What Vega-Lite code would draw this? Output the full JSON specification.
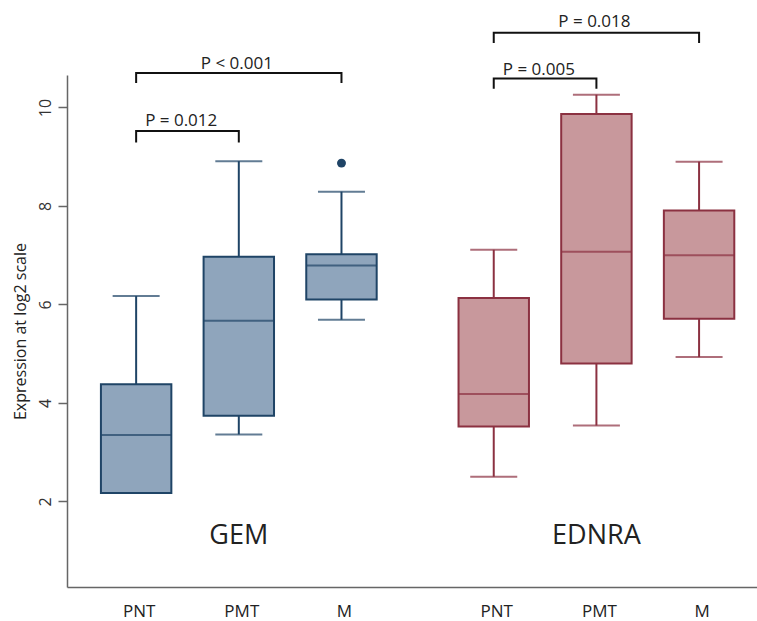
{
  "$schema": "https://vega.github.io/schema/vega-lite/v6.json",
  "width": 690,
  "height": 512,
  "autosize": {"type": "none"},
  "padding": {"left": 67, "top": 75, "right": 0, "bottom": 34},
  "background": "white",
  "config": {
    "view": {"stroke": null},
    "font": "Open Sans",
    "axis": {"grid": false}
  },
  "datasets": {
    "boxes": [
      {"group": "GEM", "type": "PNT", "lower": 2.17, "q1": 2.17, "median": 3.35, "q3": 4.38, "upper": 6.17, "outlier": null},
      {"group": "GEM", "type": "PMT", "lower": 3.36, "q1": 3.74, "median": 5.67, "q3": 6.97, "upper": 8.91, "outlier": null},
      {"group": "GEM", "type": "M", "lower": 5.69, "q1": 6.1, "median": 6.79, "q3": 7.02, "upper": 8.29, "outlier": 8.87},
      {"group": "EDNRA", "type": "PNT", "lower": 2.5, "q1": 3.52, "median": 4.18, "q3": 6.13, "upper": 7.11, "outlier": null},
      {"group": "EDNRA", "type": "PMT", "lower": 3.54, "q1": 4.8, "median": 7.07, "q3": 9.87, "upper": 10.26, "outlier": null},
      {"group": "EDNRA", "type": "M", "lower": 4.93, "q1": 5.71, "median": 7.0, "q3": 7.91, "upper": 8.9, "outlier": null}
    ],
    "brackets": [
      {"b": "g1", "group": "GEM", "type": "PNT", "y": 9.29, "o": 1},
      {"b": "g1", "group": "GEM", "type": "PNT", "y": 9.52, "o": 2},
      {"b": "g1", "group": "GEM", "type": "PMT", "y": 9.52, "o": 3},
      {"b": "g1", "group": "GEM", "type": "PMT", "y": 9.29, "o": 4},
      {"b": "g2", "group": "GEM", "type": "PNT", "y": 10.5, "o": 1},
      {"b": "g2", "group": "GEM", "type": "PNT", "y": 10.7, "o": 2},
      {"b": "g2", "group": "GEM", "type": "M", "y": 10.7, "o": 3},
      {"b": "g2", "group": "GEM", "type": "M", "y": 10.5, "o": 4},
      {"b": "e1", "group": "EDNRA", "type": "PNT", "y": 10.38, "o": 1},
      {"b": "e1", "group": "EDNRA", "type": "PNT", "y": 10.59, "o": 2},
      {"b": "e1", "group": "EDNRA", "type": "PMT", "y": 10.59, "o": 3},
      {"b": "e1", "group": "EDNRA", "type": "PMT", "y": 10.38, "o": 4},
      {"b": "e2", "group": "EDNRA", "type": "PNT", "y": 11.31, "o": 1},
      {"b": "e2", "group": "EDNRA", "type": "PNT", "y": 11.52, "o": 2},
      {"b": "e2", "group": "EDNRA", "type": "M", "y": 11.52, "o": 3},
      {"b": "e2", "group": "EDNRA", "type": "M", "y": 11.31, "o": 4}
    ],
    "plabels": [
      {"label": "P = 0.012", "kind": "short", "group": "GEM", "type": "PNT", "y": 9.62},
      {"label": "P < 0.001", "kind": "long", "group": "GEM", "type": "PMT", "y": 10.79},
      {"label": "P = 0.005", "kind": "short", "group": "EDNRA", "type": "PNT", "y": 10.67},
      {"label": "P = 0.018", "kind": "long", "group": "EDNRA", "type": "PMT", "y": 11.64}
    ],
    "groups": [
      {"group": "GEM"},
      {"group": "EDNRA"}
    ]
  },
  "encoding": {
    "x": {
      "field": "group",
      "type": "nominal",
      "scale": {"domain": ["GEM", "EDNRA"], "paddingInner": 0.1387, "paddingOuter": 0.0341, "align": 0.73},
      "axis": {"title": null, "labels": false, "ticks": false, "domainColor": "#666666", "domainWidth": 1.5}
    }
  },
  "layer": [
    {
      "data": {"name": "boxes"},
      "mark": {"type": "rule", "strokeWidth": 2},
      "encoding": {
        "xOffset": {"field": "type", "type": "nominal", "scale": {"domain": ["PNT", "PMT", "M"], "paddingInner": 0.314, "paddingOuter": 0.157}},
        "y": {"field": "lower", "type": "quantitative", "scale": {"domain": [0.26, 10.66], "nice": false, "zero": false},
          "axis": {"values": [2, 4, 6, 8, 10], "title": "Expression at log2 scale", "titleFontSize": 16, "titleFontWeight": "normal", "titleColor": "#222222", "titlePadding": 9,
            "labelAngle": -90, "labelFontSize": 16, "labelColor": "#333333", "labelPadding": 5, "tickSize": 9, "tickColor": "#666666", "tickWidth": 1.5, "domainColor": "#666666", "domainWidth": 1.5}},
        "y2": {"field": "q1"},
        "color": {"field": "group", "type": "nominal", "scale": {"domain": ["GEM", "EDNRA"], "range": ["#1f4466", "#8b3141"]}, "legend": null}
      }
    },
    {
      "data": {"name": "boxes"},
      "mark": {"type": "rule", "strokeWidth": 2},
      "encoding": {
        "xOffset": {"field": "type", "type": "nominal"},
        "y": {"field": "q3", "type": "quantitative"},
        "y2": {"field": "upper"},
        "color": {"field": "group", "type": "nominal", "legend": null}
      }
    },
    {
      "data": {"name": "boxes"},
      "mark": {"type": "tick", "size": 47, "thickness": 2},
      "encoding": {
        "xOffset": {"field": "type", "type": "nominal"},
        "y": {"field": "lower", "type": "quantitative"},
        "color": {"field": "group", "type": "nominal", "legend": null}
      }
    },
    {
      "data": {"name": "boxes"},
      "mark": {"type": "tick", "size": 47, "thickness": 2},
      "encoding": {
        "xOffset": {"field": "type", "type": "nominal"},
        "y": {"field": "upper", "type": "quantitative"},
        "color": {"field": "group", "type": "nominal", "legend": null}
      }
    },
    {
      "data": {"name": "boxes"},
      "mark": {"type": "bar", "strokeWidth": 2},
      "encoding": {
        "xOffset": {"field": "type", "type": "nominal"},
        "y": {"field": "q1", "type": "quantitative"},
        "y2": {"field": "q3"},
        "fill": {"field": "group", "type": "nominal", "scale": {"domain": ["GEM", "EDNRA"], "range": ["#8fa5bc", "#c8989c"]}, "legend": null},
        "stroke": {"field": "group", "type": "nominal", "scale": {"domain": ["GEM", "EDNRA"], "range": ["#1f4466", "#8b3141"]}, "legend": null}
      }
    },
    {
      "data": {"name": "boxes"},
      "mark": {"type": "tick", "size": 70, "thickness": 2},
      "encoding": {
        "xOffset": {"field": "type", "type": "nominal"},
        "y": {"field": "median", "type": "quantitative"},
        "color": {"field": "group", "type": "nominal", "legend": null}
      }
    },
    {
      "data": {"name": "boxes"},
      "transform": [{"filter": "datum.outlier != null"}],
      "mark": {"type": "point", "filled": true, "size": 80, "opacity": 1},
      "encoding": {
        "xOffset": {"field": "type", "type": "nominal"},
        "y": {"field": "outlier", "type": "quantitative"},
        "color": {"field": "group", "type": "nominal", "legend": null}
      }
    },
    {
      "data": {"name": "brackets"},
      "mark": {"type": "line", "color": "#111111", "strokeWidth": 2},
      "encoding": {
        "xOffset": {"field": "type", "type": "nominal"},
        "y": {"field": "y", "type": "quantitative"},
        "detail": {"field": "b"},
        "order": {"field": "o", "type": "quantitative"}
      }
    },
    {
      "data": {"name": "plabels"},
      "transform": [{"filter": "datum.kind == 'long'"}],
      "mark": {"type": "text", "align": "center", "baseline": "alphabetic", "fontSize": 17, "color": "#222222", "dx": -2},
      "encoding": {
        "xOffset": {"field": "type", "type": "nominal"},
        "y": {"field": "y", "type": "quantitative"},
        "text": {"field": "label"}
      }
    },
    {
      "data": {"name": "plabels"},
      "transform": [{"filter": "datum.kind == 'short'"}],
      "mark": {"type": "text", "align": "left", "baseline": "alphabetic", "fontSize": 17, "color": "#222222", "dx": 9},
      "encoding": {
        "xOffset": {"field": "type", "type": "nominal"},
        "y": {"field": "y", "type": "quantitative"},
        "text": {"field": "label"}
      }
    },
    {
      "data": {"name": "boxes"},
      "mark": {"type": "text", "align": "center", "baseline": "middle", "fontSize": 17, "color": "#222222", "dx": 3},
      "encoding": {
        "xOffset": {"field": "type", "type": "nominal"},
        "y": {"datum": -0.246, "type": "quantitative"},
        "text": {"field": "type"}
      }
    },
    {
      "data": {"name": "groups"},
      "mark": {"type": "text", "align": "center", "baseline": "middle", "fontSize": 27, "color": "#222222"},
      "encoding": {
        "y": {"datum": 1.3, "type": "quantitative"},
        "text": {"field": "group"}
      }
    }
  ]
}
